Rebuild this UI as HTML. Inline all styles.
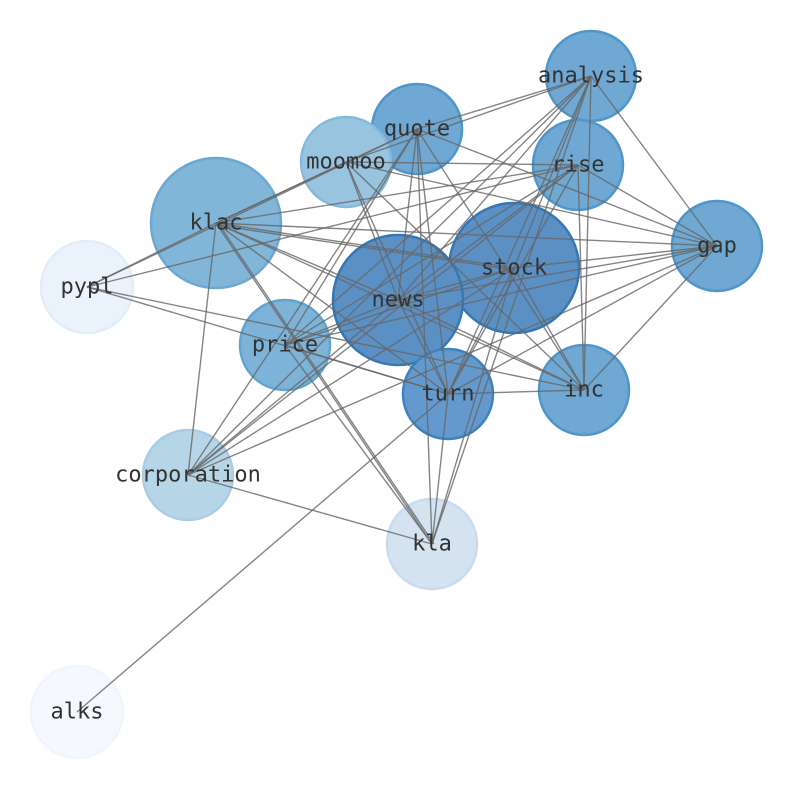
<!DOCTYPE html>
<html><head><meta charset="utf-8"><style>body{margin:0;background:#fff}svg{display:block}</style></head><body>
<svg width="794" height="790" xmlns="http://www.w3.org/2000/svg">
<g stroke-width="2.5">
<circle cx="591" cy="76" r="45" fill="#6fa8d2" stroke="#5096c9"/>
<circle cx="417" cy="129" r="45" fill="#6fa8d2" stroke="#5096c9"/>
<circle cx="346" cy="162" r="45" fill="#98c4e0" stroke="#86badb"/>
<circle cx="578" cy="165" r="45" fill="#6fa8d2" stroke="#5096c9"/>
<circle cx="216" cy="223" r="65" fill="#82b6d8" stroke="#6ca8d2"/>
<circle cx="717" cy="246" r="45" fill="#6fa8d2" stroke="#5096c9"/>
<circle cx="87" cy="287" r="46" fill="#eaf2fb" stroke="#e3edf8"/>
<circle cx="514" cy="268" r="65" fill="#5b90c5" stroke="#3478b6"/>
<circle cx="398" cy="300" r="65" fill="#5b90c5" stroke="#3478b6"/>
<circle cx="285" cy="345" r="45" fill="#7db3d9" stroke="#62a4d0"/>
<circle cx="448" cy="394" r="45" fill="#6399cc" stroke="#3f82bf"/>
<circle cx="584" cy="390" r="45" fill="#6fa8d2" stroke="#5096c9"/>
<circle cx="188" cy="475" r="45" fill="#b6d6e8" stroke="#a8cde4"/>
<circle cx="432" cy="544" r="45" fill="#d5e3f1" stroke="#c9dcee"/>
<circle cx="77" cy="712" r="46" fill="#f5f9fe" stroke="#f0f5fc"/>
</g>
<g stroke="#666" stroke-width="1.4" stroke-opacity="0.8">
<line x1="591" y1="76" x2="417" y2="129"/><line x1="591" y1="76" x2="346" y2="162"/>
<line x1="591" y1="76" x2="717" y2="246"/><line x1="591" y1="76" x2="584" y2="390"/>
<line x1="591" y1="76" x2="514" y2="268"/><line x1="591" y1="76" x2="398" y2="300"/>
<line x1="591" y1="76" x2="448" y2="394"/><line x1="591" y1="76" x2="285" y2="345"/>
<line x1="591" y1="76" x2="188" y2="475"/><line x1="591" y1="76" x2="432" y2="544"/>
<line x1="417" y1="129" x2="216" y2="223"/><line x1="417" y1="129" x2="717" y2="246"/>
<line x1="417" y1="129" x2="584" y2="390"/><line x1="417" y1="129" x2="398" y2="300"/>
<line x1="417" y1="129" x2="448" y2="394"/><line x1="417" y1="129" x2="432" y2="544"/>
<line x1="417" y1="129" x2="188" y2="475"/><line x1="417" y1="129" x2="285" y2="345"/>
<line x1="417" y1="129" x2="87" y2="287"/>
<line x1="346" y1="162" x2="216" y2="223"/><line x1="346" y1="162" x2="578" y2="165"/>
<line x1="346" y1="162" x2="717" y2="246"/><line x1="346" y1="162" x2="398" y2="300"/>
<line x1="346" y1="162" x2="448" y2="394"/><line x1="346" y1="162" x2="584" y2="390"/>
<line x1="578" y1="165" x2="216" y2="223"/><line x1="578" y1="165" x2="87" y2="287"/>
<line x1="578" y1="165" x2="717" y2="246"/><line x1="578" y1="165" x2="584" y2="390"/>
<line x1="578" y1="165" x2="448" y2="394"/><line x1="578" y1="165" x2="398" y2="300"/>
<line x1="578" y1="165" x2="285" y2="345"/><line x1="578" y1="165" x2="188" y2="475"/>
<line x1="216" y1="223" x2="514" y2="268"/><line x1="216" y1="225" x2="514" y2="270"/>
<line x1="216" y1="223" x2="398" y2="300"/><line x1="216" y1="223" x2="448" y2="394"/>
<line x1="216" y1="223" x2="584" y2="390"/><line x1="216" y1="223" x2="432" y2="544"/>
<line x1="218" y1="223" x2="434" y2="544"/><line x1="216" y1="223" x2="188" y2="475"/>
<line x1="216" y1="223" x2="87" y2="287"/><line x1="216" y1="223" x2="717" y2="246"/>
<line x1="717" y1="246" x2="514" y2="268"/><line x1="717" y1="246" x2="398" y2="300"/>
<line x1="717" y1="246" x2="285" y2="345"/><line x1="717" y1="246" x2="448" y2="394"/>
<line x1="717" y1="246" x2="584" y2="390"/><line x1="717" y1="246" x2="188" y2="475"/>
<line x1="87" y1="287" x2="448" y2="394"/><line x1="87" y1="287" x2="584" y2="390"/>
<line x1="514" y1="268" x2="398" y2="300"/><line x1="514" y1="268" x2="448" y2="394"/>
<line x1="514" y1="268" x2="432" y2="544"/><line x1="514" y1="268" x2="188" y2="475"/>
<line x1="514" y1="268" x2="584" y2="390"/><line x1="514" y1="268" x2="285" y2="345"/>
<line x1="398" y1="300" x2="448" y2="394"/><line x1="398" y1="300" x2="584" y2="390"/>
<line x1="398" y1="300" x2="285" y2="345"/><line x1="398" y1="300" x2="188" y2="475"/>
<line x1="285" y1="345" x2="432" y2="544"/><line x1="285" y1="345" x2="448" y2="394"/>
<line x1="448" y1="394" x2="584" y2="390"/><line x1="448" y1="394" x2="432" y2="544"/>
<line x1="448" y1="394" x2="77" y2="712"/><line x1="188" y1="475" x2="432" y2="544"/>
</g>
<g font-family="'DejaVu Sans Mono','Liberation Mono',monospace" font-size="22" fill="#333" text-anchor="middle" dominant-baseline="central">
<text x="591" y="76">analysis</text><text x="417" y="129">quote</text>
<text x="346" y="162">moomoo</text><text x="578" y="165">rise</text>
<text x="216" y="223">klac</text><text x="717" y="246">gap</text>
<text x="87" y="287">pypl</text><text x="514" y="268">stock</text>
<text x="398" y="300">news</text><text x="285" y="345">price</text>
<text x="448" y="394">turn</text><text x="584" y="390">inc</text>
<text x="188" y="475">corporation</text><text x="432" y="544">kla</text>
<text x="77" y="712">alks</text>
</g>
</svg>
</body></html>
